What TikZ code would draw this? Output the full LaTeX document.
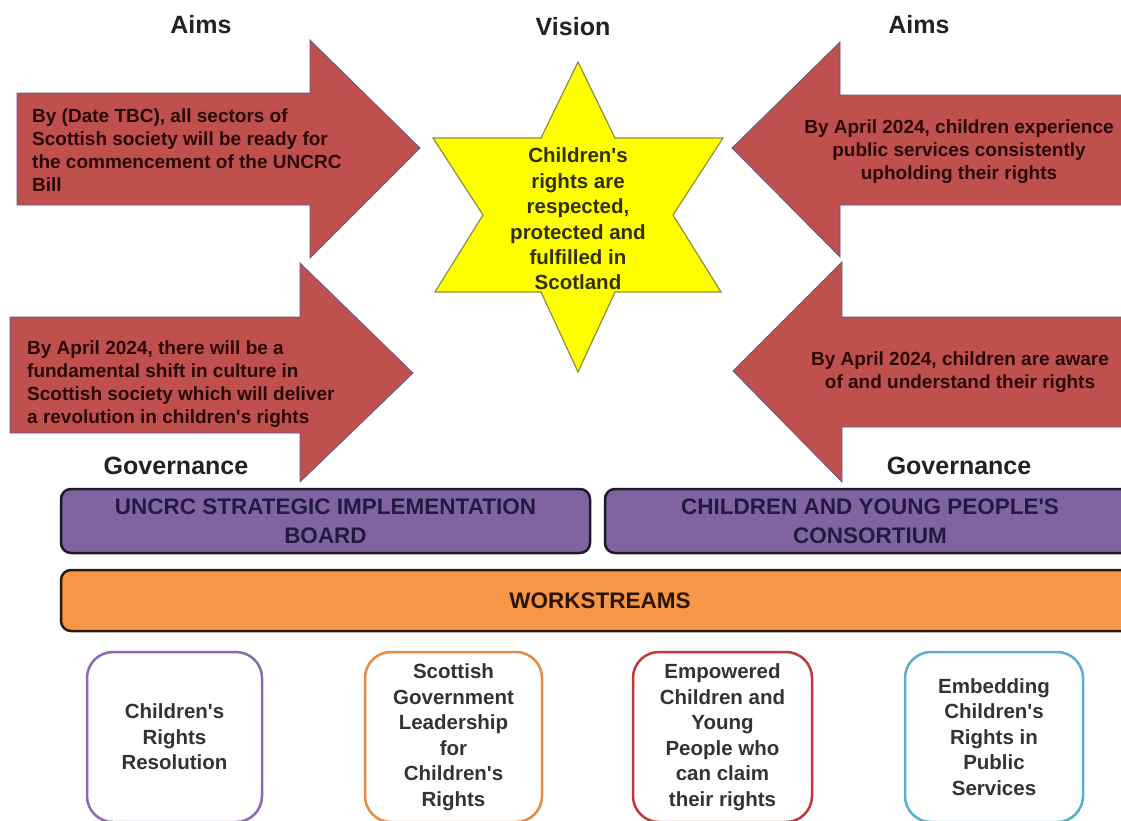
\documentclass[tikz,border=0pt]{standalone}
\usepackage{fontspec}
\setmainfont{Liberation Sans}
\newcommand{\apo}{\textquotesingle}
\definecolor{arrred}{HTML}{C0504D}
\definecolor{arredge}{HTML}{5B5B8C}
\definecolor{arrtext}{HTML}{2A0808}
\definecolor{staryel}{HTML}{FFFF00}
\definecolor{staredge}{HTML}{8E8E40}
\definecolor{startext}{HTML}{303000}
\definecolor{govpur}{HTML}{8064A2}
\definecolor{govedge}{HTML}{1E1A2C}
\definecolor{govtext}{HTML}{221A40}
\definecolor{wsor}{HTML}{F79646}
\definecolor{wsedge}{HTML}{2A1A0C}
\definecolor{wstext}{HTML}{2A1400}
\definecolor{bxpur}{HTML}{8A6AB0}
\definecolor{bxor}{HTML}{E98A3E}
\definecolor{bxred}{HTML}{C0393A}
\definecolor{bxblue}{HTML}{5AB0CC}
\definecolor{bxtext}{HTML}{333333}
\definecolor{titletext}{HTML}{222222}
\begin{document}
\begin{tikzpicture}[x=1pt,y=-1pt,
  bigarrow/.style={fill=arrred,draw=arredge,line width=0.8pt},
  arrtxt/.style={text=arrtext,font=\bfseries\fontsize{19}{23}\selectfont,inner sep=0pt},
  titletxt/.style={text=titletext,font=\bfseries\fontsize{25}{29}\selectfont,inner sep=0pt},
  startxt/.style={text=startext,font=\bfseries\fontsize{20.5}{25.4}\selectfont,align=center,inner sep=0pt},
  govbox/.style={fill=govpur,draw=govedge,line width=2.5pt,rounded corners=10pt,
    text=govtext,font=\bfseries\fontsize{22.5}{29}\selectfont,align=center,inner sep=0pt},
  wsbox/.style={fill=wsor,draw=wsedge,line width=2.5pt,rounded corners=10pt,
    text=wstext,font=\bfseries\fontsize{22.5}{27}\selectfont,inner sep=0pt},
  wkbox/.style={fill=white,line width=2.5pt,rounded corners=26pt,
    text=bxtext,font=\bfseries\fontsize{20.5}{25.5}\selectfont,align=center,inner sep=0pt,
    minimum height=170pt}
]
\useasboundingbox (0,0) rectangle (1121,820);
\clip (0,0) rectangle (1121,820);
\fill[white] (0,0) rectangle (1121,820);

% titles
\node[titletxt] (aimsL) at (201,25) {Aims};
\node[titletxt] (vision) at (573,27) {Vision};
\node[titletxt] (aimsR) at (919,25) {Aims};
\node[titletxt] (govL) at (176,466) {Governance};
\node[titletxt] (govR) at (959,466) {Governance};

% arrows
\draw[bigarrow] (17,93) -- (310,93) -- (310,40) -- (420,148) -- (310,258) -- (310,205) -- (17,205) -- cycle;
\draw[bigarrow] (10,317) -- (300,317) -- (300,263) -- (413,373) -- (300,482) -- (300,433) -- (10,433) -- cycle;
\draw[bigarrow] (1130,95) -- (840,95) -- (840,42) -- (732,148) -- (840,257) -- (840,205) -- (1130,205) -- cycle;
\draw[bigarrow] (1130,317) -- (842,317) -- (842,262) -- (733,371) -- (842,482) -- (842,427) -- (1130,427) -- cycle;

\node[arrtxt,anchor=west,align=left] (aim1) at (32,150)
  {By (Date TBC), all sectors of\\Scottish society will be ready for\\the commencement of the UNCRC\\Bill};
\node[arrtxt,anchor=west,align=left] (aim2) at (27,384)
  {By April 2024, there will be a\\fundamental shift in culture in\\Scottish society which will deliver\\a revolution in children\apo s rights};
\node[arrtxt,align=center] (aim3) at (959,152)
  {By April 2024, children experience\\public services consistently\\upholding their rights};
\node[arrtxt,align=center] (aim4) at (960,372)
  {By April 2024, children are aware\\of and understand their rights};

% star
\draw[fill=staryel,draw=staredge,line width=1.2pt,line join=miter]
  (578,62) -- (615,138) -- (723,138) -- (673,215) -- (721,292) -- (615,292) --
  (578,372) -- (541,292) -- (435,292) -- (483,215) -- (433,138) -- (541,138) -- cycle;
\node[startxt] (star) at (578,219)
  {Children\apo s\\rights are\\respected,\\protected and\\fulfilled in\\Scotland};

% governance boxes
\node[govbox,minimum width=529pt,minimum height=64pt] (board) at (325.5,521)
  {UNCRC STRATEGIC IMPLEMENTATION\\BOARD};
\node[govbox,minimum width=530pt,minimum height=64pt] (consort) at (870,521)
  {CHILDREN AND YOUNG PEOPLE\apo S\\CONSORTIUM};

% workstreams
\node[wsbox,minimum width=1078pt,minimum height=61pt] (ws) at (600,600.5) {WORKSTREAMS};

% workstream boxes
\node[wkbox,draw=bxpur,minimum width=175pt] (w1) at (174.5,737)
  {Children\apo s\\Rights\\Resolution};
\node[wkbox,draw=bxor,minimum width=177pt] (w2) at (453.5,737)
  {Scottish\\Government\\Leadership\\for\\Children\apo s\\Rights};
\node[wkbox,draw=bxred,minimum width=179pt] (w3) at (722.5,737)
  {Empowered\\Children and\\Young\\People who\\can claim\\their rights};
\node[wkbox,draw=bxblue,minimum width=178pt] (w4) at (994,737)
  {Embedding\\Children\apo s\\Rights in\\Public\\Services};
\end{tikzpicture}
\end{document}
